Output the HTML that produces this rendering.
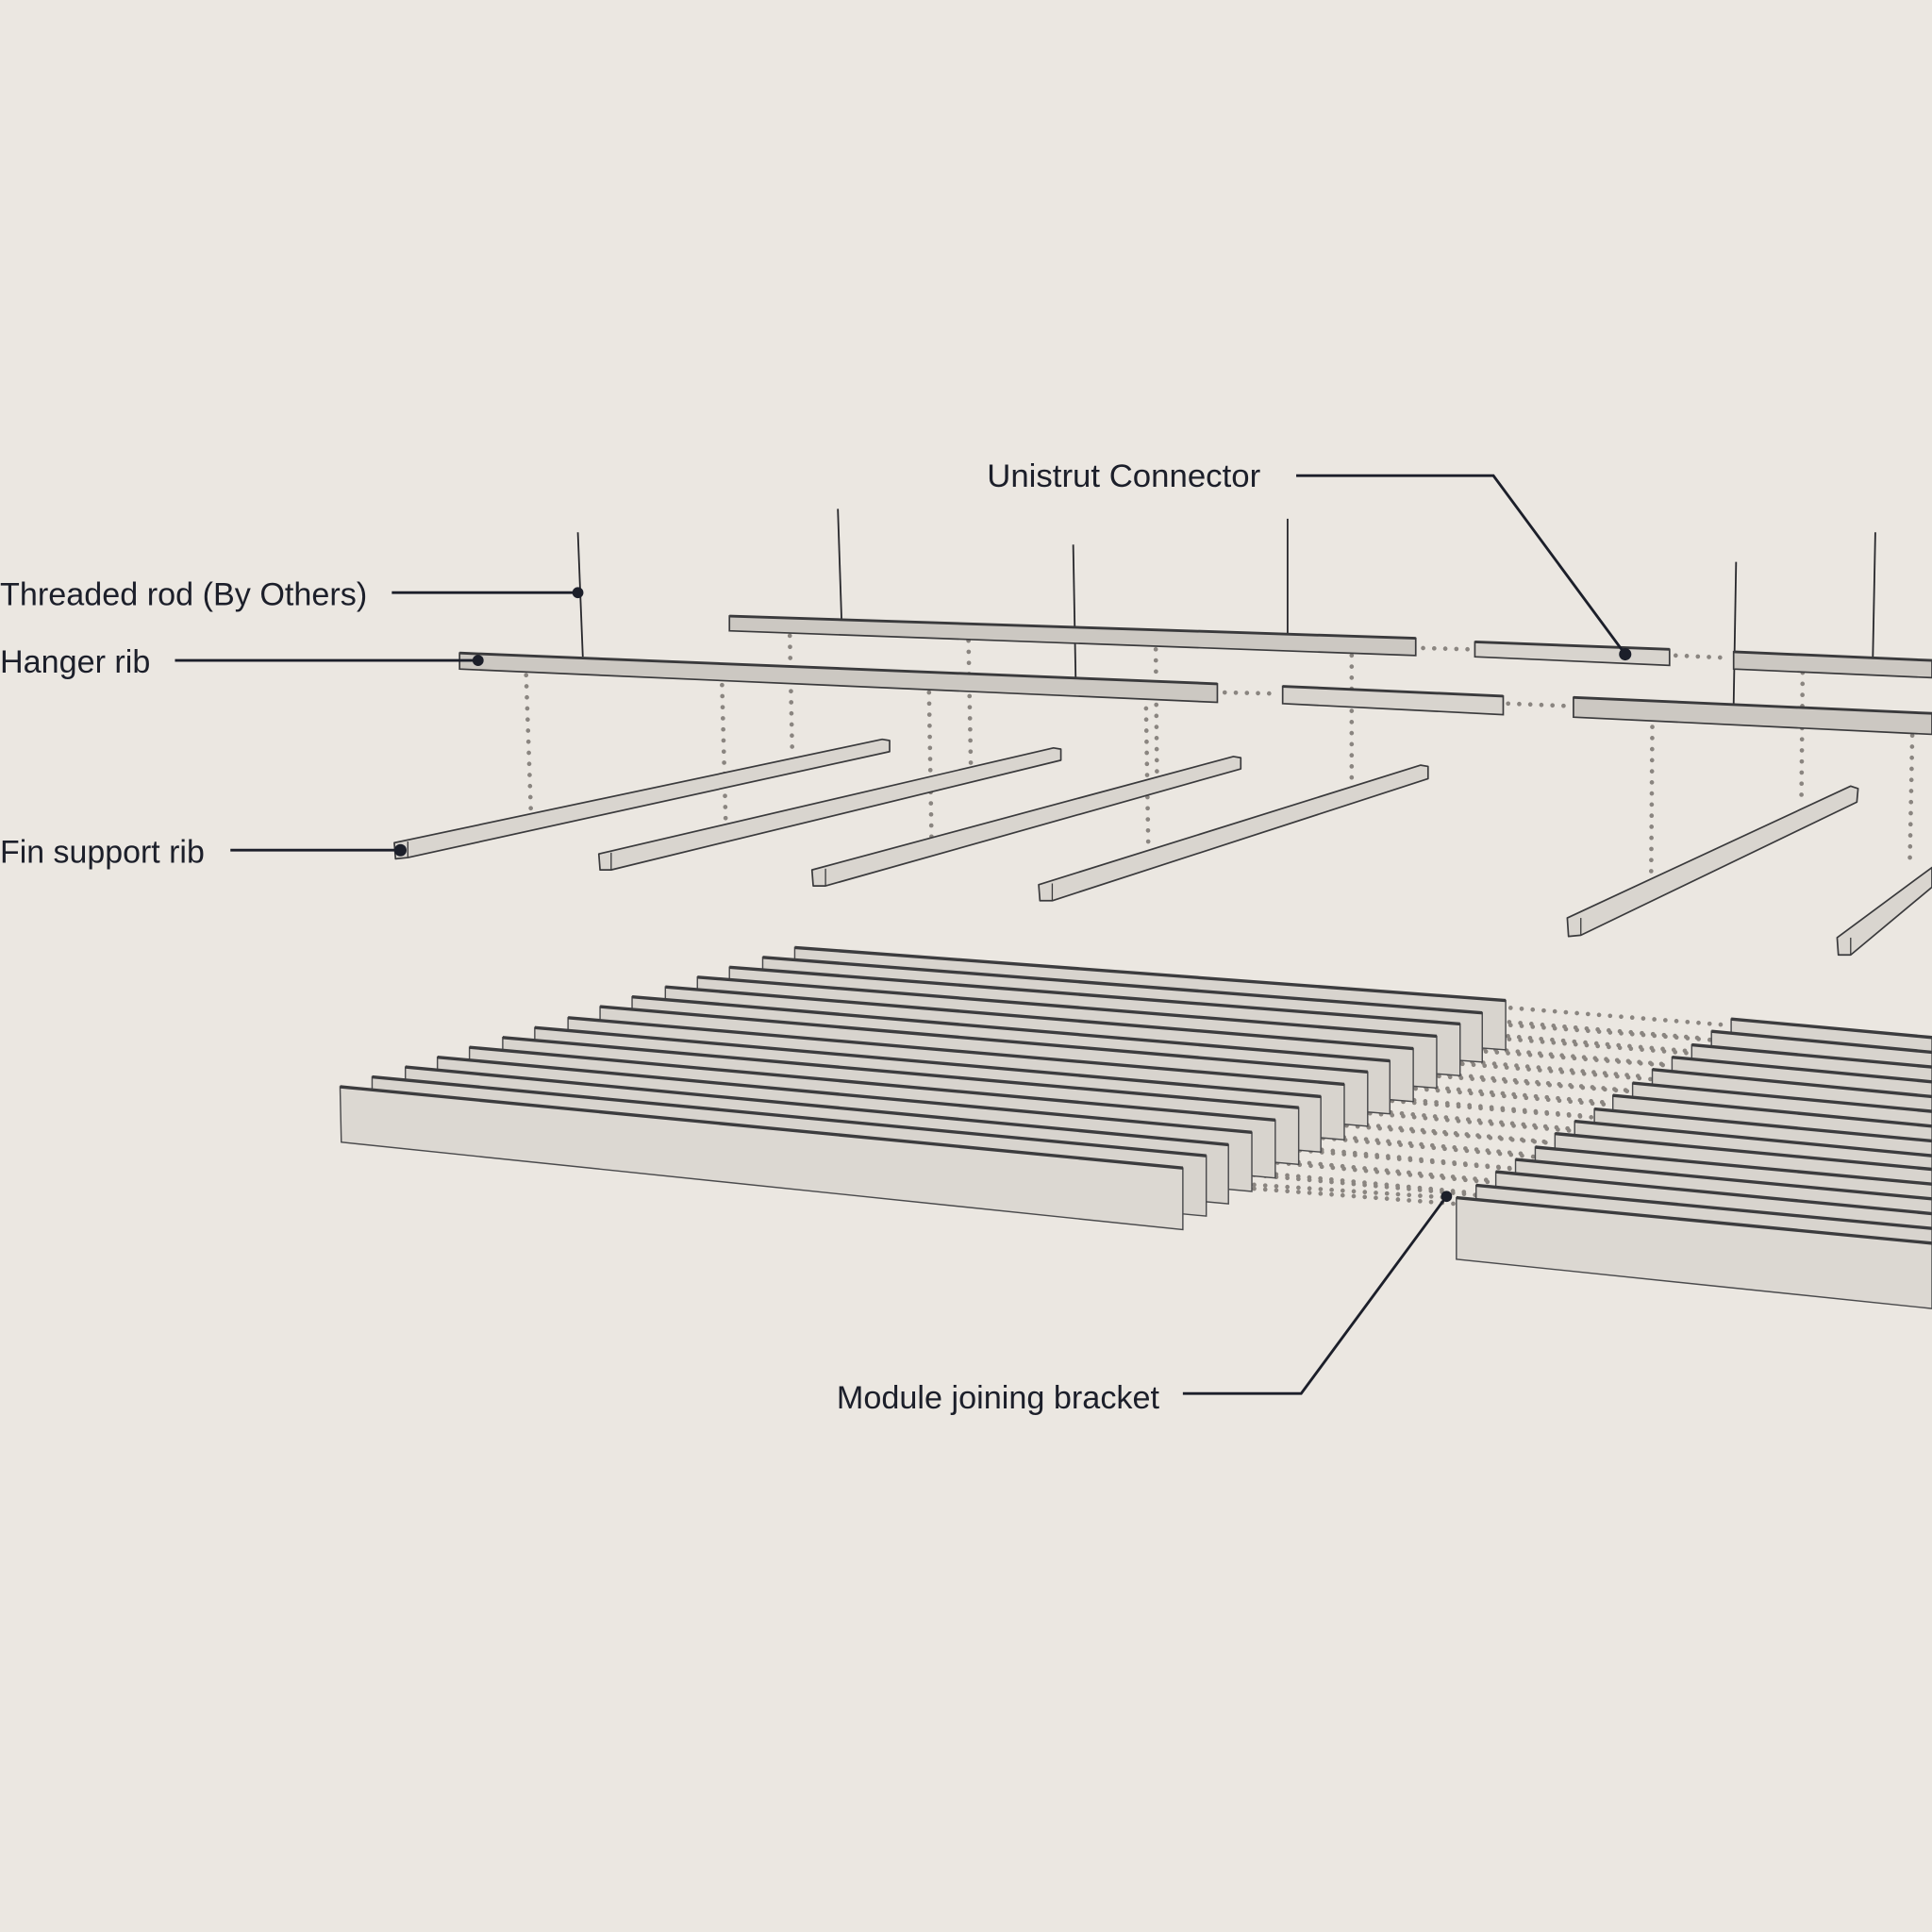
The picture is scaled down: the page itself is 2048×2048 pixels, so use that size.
<!DOCTYPE html>
<html><head><meta charset="utf-8"><style>
html,body{margin:0;padding:0;background:#ebe7e1;}
svg{display:block;}
text{font-family:"Liberation Sans",sans-serif;font-size:26.5px;fill:#1c1f2a;letter-spacing:0px;}
</style></head><body>
<svg width="2048" height="2048" viewBox="0 0 1568 1568" xmlns="http://www.w3.org/2000/svg">
<rect width="1568" height="1568" fill="#ebe7e1"/>
<g stroke="#8a8580" stroke-width="3.6" stroke-linecap="round" stroke-dasharray="0 9" fill="none">
<line x1="427" y1="548" x2="431" y2="662"/>
<line x1="586" y1="556" x2="589" y2="668"/>
<line x1="641" y1="516" x2="643" y2="612"/>
<line x1="754" y1="562" x2="756" y2="680"/>
<line x1="786" y1="520" x2="788" y2="625"/>
<line x1="930" y1="566" x2="932" y2="690"/>
<line x1="938" y1="527" x2="939" y2="632"/>
<line x1="1097" y1="532" x2="1097" y2="636"/>
<line x1="1341" y1="590" x2="1340" y2="718"/>
<line x1="1463" y1="546" x2="1462" y2="650"/>
<line x1="1552" y1="597" x2="1550" y2="700"/>
<line x1="994" y1="562" x2="1038" y2="563"/>
<line x1="1224" y1="571" x2="1273" y2="573"/>
<line x1="1155" y1="526" x2="1194" y2="527"/>
<line x1="1360" y1="532" x2="1404" y2="534"/>
<line x1="1226" y1="818" x2="1402" y2="832"/><line x1="1226" y1="832" x2="1402" y2="845"/>
<line x1="1207" y1="828" x2="1386" y2="843"/><line x1="1207" y1="842" x2="1386" y2="856"/>
<line x1="1188" y1="838" x2="1370" y2="853"/><line x1="1188" y1="852" x2="1370" y2="866"/>
<line x1="1169" y1="848" x2="1354" y2="864"/><line x1="1169" y1="862" x2="1354" y2="877"/>
<line x1="1150" y1="858" x2="1338" y2="874"/><line x1="1150" y1="872" x2="1338" y2="887"/>
<line x1="1131" y1="868" x2="1322" y2="885"/><line x1="1131" y1="882" x2="1322" y2="898"/>
<line x1="1112" y1="878" x2="1306" y2="895"/><line x1="1112" y1="892" x2="1306" y2="908"/>
<line x1="1094" y1="888" x2="1290" y2="906"/><line x1="1094" y1="902" x2="1290" y2="919"/>
<line x1="1075" y1="898" x2="1274" y2="916"/><line x1="1075" y1="912" x2="1274" y2="929"/>
<line x1="1056" y1="908" x2="1258" y2="927"/><line x1="1056" y1="922" x2="1258" y2="940"/>
<line x1="1037" y1="918" x2="1242" y2="937"/><line x1="1037" y1="932" x2="1242" y2="950"/>
<line x1="1019" y1="928" x2="1226" y2="948"/><line x1="1019" y1="942" x2="1226" y2="961"/>
<line x1="1000" y1="938" x2="1210" y2="958"/><line x1="1000" y1="952" x2="1210" y2="971"/>
<line x1="982" y1="948" x2="1194" y2="968"/><line x1="982" y1="962" x2="1194" y2="978"/>
<line x1="964" y1="958" x2="1176" y2="972"/>
</g>

<g stroke="#2a2a2e" stroke-width="1.4">
<line x1="469" y1="432" x2="473" y2="533"/>
<line x1="680" y1="413" x2="683" y2="503"/>
<line x1="871" y1="442" x2="873" y2="550"/>
<line x1="1045" y1="421" x2="1045" y2="516"/>
<line x1="1409" y1="456" x2="1407" y2="572"/>
<line x1="1522" y1="432" x2="1520" y2="533"/>
</g>

<g fill="#ccc8c2" stroke="#3a3a3c" stroke-width="1.3">
<polygon points="592,500 1149,518 1149,532 592,512"/>
<polygon points="373,530 988,555 988,570 373,543"/>
<polygon points="1197,521 1355,527 1355,540 1197,533" fill="#d8d4ce"/>
<polygon points="1041,557 1220,565 1220,580 1041,571" fill="#d8d4ce"/>
<polygon points="1407,529 1568,536 1568,550 1407,543"/>
<polygon points="1277,566 1568,579 1568,596 1277,582"/>
</g>
<g stroke="#3a3a3c" stroke-width="2.2">
<line x1="592" y1="500" x2="1149" y2="518"/><line x1="373" y1="530" x2="988" y2="555"/>
<line x1="1197" y1="521" x2="1355" y2="527"/><line x1="1041" y1="557" x2="1220" y2="565"/>
<line x1="1407" y1="529" x2="1568" y2="536"/><line x1="1277" y1="566" x2="1568" y2="579"/>
</g>

<g fill="#d9d5cf" stroke="#3a3a3c" stroke-width="1.3" stroke-linejoin="round">
<polygon points="320,684 716,600 722,601 722,610 331,696 321,697"/>
<polygon points="486,693 855,607 861,608 861,617 496,706 487,706"/>
<polygon points="659,706 1001,614 1007,615 1007,624 670,719 660,719"/>
<polygon points="843,718 1153,621 1159,622 1159,632 854,731 844,731"/>
<polygon points="1272,745 1502,638 1508,640 1507,651 1283,759 1273,760"/>
<polygon points="1491,761 1568,704 1568,720 1502,775 1492,775"/>
</g>
<g stroke="#3a3a3c" stroke-width="1">
<line x1="331" y1="683" x2="331" y2="696"/><line x1="496" y1="692" x2="496" y2="706"/>
<line x1="670" y1="705" x2="670" y2="719"/><line x1="854" y1="717" x2="854" y2="731"/>
<line x1="1283" y1="745" x2="1283" y2="759"/><line x1="1502" y1="761" x2="1502" y2="775"/>
</g>

<g fill="#d8d4ce" stroke="#4a4a4c" stroke-width="1.1">
<polygon points="645,769 1222,812 1222,852 645,809"/>
<polygon points="619,777 1203,822 1203,862 619,818"/>
<polygon points="592,785 1185,831 1185,873 592,826"/>
<polygon points="566,793 1166,841 1166,883 566,835"/>
<polygon points="540,801 1147,851 1147,894 540,844"/>
<polygon points="513,809 1128,861 1128,904 513,853"/>
<polygon points="487,817 1110,870 1110,914 487,861"/>
<polygon points="461,826 1091,880 1091,925 461,871"/>
<polygon points="434,834 1072,890 1072,935 434,880"/>
<polygon points="408,842 1054,899 1054,945 408,888"/>
<polygon points="381,850 1035,909 1035,956 381,897"/>
<polygon points="355,858 1016,919 1016,967 355,906"/>
<polygon points="329,866 997,929 997,977 329,915"/>
<polygon points="302,874 979,938 979,987 302,923"/>
<polygon points="276,882 960,948 960,998 277,927" fill="#dcd8d2"/>
</g>
<g stroke="#3c3c3e" stroke-width="2.6">
<line x1="645" y1="769" x2="1222" y2="812"/><line x1="619" y1="777" x2="1203" y2="822"/>
<line x1="592" y1="785" x2="1185" y2="831"/><line x1="566" y1="793" x2="1166" y2="841"/>
<line x1="540" y1="801" x2="1147" y2="851"/><line x1="513" y1="809" x2="1128" y2="861"/>
<line x1="487" y1="817" x2="1110" y2="870"/><line x1="461" y1="826" x2="1091" y2="880"/>
<line x1="434" y1="834" x2="1072" y2="890"/><line x1="408" y1="842" x2="1054" y2="899"/>
<line x1="381" y1="850" x2="1035" y2="909"/><line x1="355" y1="858" x2="1016" y2="919"/>
<line x1="329" y1="866" x2="997" y2="929"/><line x1="302" y1="874" x2="979" y2="938"/>
<line x1="276" y1="882" x2="960" y2="948"/>
</g>

<g fill="#d8d4ce" stroke="#4a4a4c" stroke-width="1.1">
<polygon points="1405,827 1568,842 1568,880 1405,866"/>
<polygon points="1389,837 1568,854 1568,893 1389,877"/>
<polygon points="1373,848 1568,866 1568,906 1373,888"/>
<polygon points="1357,858 1568,878 1568,919 1357,899"/>
<polygon points="1341,868 1568,890 1568,932 1341,910"/>
<polygon points="1325,879 1568,902 1568,945 1325,921"/>
<polygon points="1309,889 1568,914 1568,958 1309,932"/>
<polygon points="1294,900 1568,926 1568,971 1294,944"/>
<polygon points="1278,910 1568,938 1568,984 1278,955"/>
<polygon points="1262,920 1568,949 1568,996 1262,966"/>
<polygon points="1246,931 1568,961 1568,1009 1246,977"/>
<polygon points="1230,941 1568,973 1568,1022 1230,989"/>
<polygon points="1214,951 1568,985 1568,1035 1214,1000"/>
<polygon points="1198,962 1568,997 1568,1048 1198,1011"/>
<polygon points="1182,972 1568,1009 1568,1062 1182,1022" fill="#dcd8d2"/>
</g>
<g stroke="#3c3c3e" stroke-width="2.6">
<line x1="1405" y1="827" x2="1568" y2="842"/><line x1="1389" y1="837" x2="1568" y2="854"/>
<line x1="1373" y1="848" x2="1568" y2="866"/><line x1="1357" y1="858" x2="1568" y2="878"/>
<line x1="1341" y1="868" x2="1568" y2="890"/><line x1="1325" y1="879" x2="1568" y2="902"/>
<line x1="1309" y1="889" x2="1568" y2="914"/><line x1="1294" y1="900" x2="1568" y2="926"/>
<line x1="1278" y1="910" x2="1568" y2="938"/><line x1="1262" y1="920" x2="1568" y2="949"/>
<line x1="1246" y1="931" x2="1568" y2="961"/><line x1="1230" y1="941" x2="1568" y2="973"/>
<line x1="1214" y1="951" x2="1568" y2="985"/><line x1="1198" y1="962" x2="1568" y2="997"/>
<line x1="1182" y1="972" x2="1568" y2="1009"/>
</g>

<g stroke="#1c1f2a" stroke-width="2.2" fill="none">
<polyline points="1052,386 1212,386 1319,531"/>
<line x1="318" y1="481" x2="469" y2="481"/>
<line x1="142" y1="536" x2="388" y2="536"/>
<line x1="187" y1="690" x2="325" y2="690"/>
<polyline points="960,1131 1056,1131 1174,971"/>
</g>
<g fill="#1c1f2a">
<circle cx="1319" cy="531" r="5"/>
<circle cx="469" cy="481" r="4.5"/>
<circle cx="388" cy="536" r="4.5"/>
<circle cx="325" cy="690" r="5"/>
<circle cx="1174" cy="971" r="4.5"/>
</g>

<text x="801" y="395" textLength="222" lengthAdjust="spacingAndGlyphs">Unistrut Connector</text>
<text x="0" y="491" textLength="298" lengthAdjust="spacingAndGlyphs">Threaded rod (By Others)</text>
<text x="0" y="546" textLength="122" lengthAdjust="spacingAndGlyphs">Hanger rib</text>
<text x="0" y="700" textLength="166" lengthAdjust="spacingAndGlyphs">Fin support rib</text>
<text x="679" y="1143" textLength="262" lengthAdjust="spacingAndGlyphs">Module joining bracket</text>
</svg>
</body></html>
